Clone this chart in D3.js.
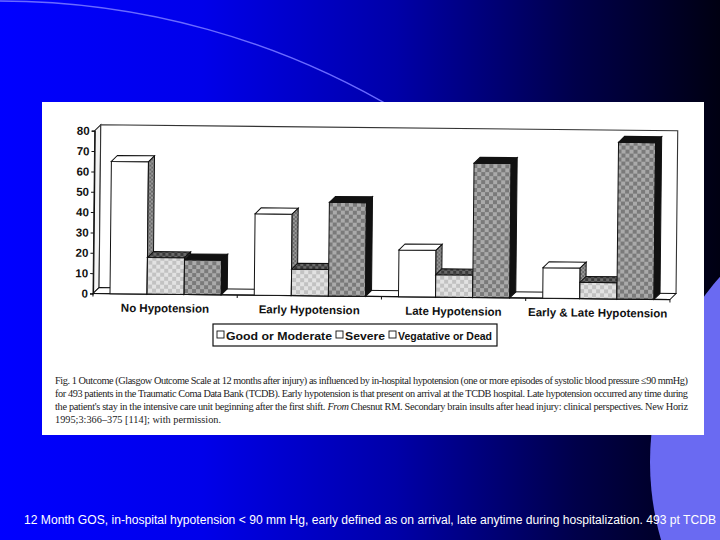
<!DOCTYPE html>
<html><head><meta charset="utf-8">
<script src="https://cdn.jsdelivr.net/npm/d3@7"></script>
<style>html,body{margin:0;padding:0;background:#000;overflow:hidden}svg{display:block}</style>
</head><body>
<svg id="c" width="720" height="540"></svg>
<script>
// ---------------- data ----------------
const categories = ["No Hypotension", "Early Hypotension", "Late Hypotension", "Early & Late Hypotension"];
const series = ["Good or Moderate", "Severe", "Vegatative or Dead"];
const goodModerate = [65, 40, 23, 15];
const severe = [18, 13, 11, 8];
const vegetativeDead = [17, 46, 66, 77];
const yTicks = [0, 10, 20, 30, 40, 50, 60, 70, 80];
const captionLines = [
  "Fig. 1  Outcome (Glasgow Outcome Scale at 12 months after injury) as influenced by in-hospital hypotension (one or more episodes of systolic blood pressure ≤90 mmHg)",
  "for 493 patients in the Traumatic Coma Data Bank (TCDB). Early hypotension is that present on arrival at the TCDB hospital. Late hypotension occurred any time during",
  "the patient's stay in the intensive care unit beginning after the first shift. From Chesnut RM. Secondary brain insults after head injury: clinical perspectives. New Horiz",
  "1995;3:366–375 [114]; with permission."
];
const footnote = "12  Month GOS, in-hospital hypotension < 90 mm Hg, early defined as on arrival, late anytime during hospitalization.  493 pt TCDB";

const values = [goodModerate, severe, vegetativeDead];

// ---------------- setup ----------------
const svg = d3.select("#c");
const defs = svg.append("defs");

const bg = defs.append("linearGradient").attr("id", "bg").attr("x1", 0).attr("x2", 1).attr("y1", 0).attr("y2", 0);
[[0, "#0000ff"], [0.28, "#0000ea"], [0.55, "#0000a8"], [0.8, "#00004a"], [1, "#000012"]].forEach(s =>
  bg.append("stop").attr("offset", s[0]).attr("stop-color", s[1]));

function checker(id, base, sq, size) {
  const p = defs.append("pattern").attr("id", id).attr("patternUnits", "userSpaceOnUse")
    .attr("width", size * 2).attr("height", size * 2);
  p.append("rect").attr("width", size * 2).attr("height", size * 2).attr("fill", base);
  p.append("rect").attr("width", size).attr("height", size).attr("fill", sq);
  p.append("rect").attr("x", size).attr("y", size).attr("width", size).attr("height", size).attr("fill", sq);
}
checker("sevFront", "#e2e2e2", "#c2c2c2", 4);
checker("vegFront", "#aaaaaa", "#7a7a7a", 4);
checker("sevTop", "#6a6a6a", "#3a3a3a", 3);
checker("whiteSide", "#9a9a9a", "#6a6a6a", 2);

const fills = {
  front: ["#ffffff", "url(#sevFront)", "url(#vegFront)"],
  top: ["#ffffff", "url(#sevTop)", "#111111"],
  side: ["url(#whiteSide)", "url(#sevTop)", "#111111"]
};

// background
svg.append("rect").attr("width", 720).attr("height", 540).attr("fill", "url(#bg)");
// lavender shape bottom-right
svg.append("circle").attr("cx", 930).attr("cy", 462).attr("r", 280).attr("fill", "#6a6af2");
// thin arc top-left
svg.append("path").attr("d", "M0,1 A778,778 0 0,1 400,112").attr("fill", "none")
  .attr("stroke", "#6a6aff").attr("stroke-width", 1.3);

// white panel
svg.append("rect").attr("x", 42).attr("y", 102).attr("width", 662).attr("height", 333).attr("fill", "#ffffff");

// ---------------- chart ----------------
const x0 = 93, x1 = 670, yBase = 293.5, yTop = 130.7, D = 6;
const chart = svg.append("g").attr("transform", `rotate(0.6, ${x0}, ${yBase})`);

const xCat = d3.scaleBand().domain(categories).range([x0, x1]).paddingInner(0).paddingOuter(0);
const xSer = d3.scaleBand().domain(series).range([17, xCat.bandwidth() - 16]);
const y = d3.scaleLinear().domain([0, 80]).range([yBase, yTop]);

// left wall + back wall
chart.append("path")
  .attr("d", `M${x0},${y(0)} L${x0},${y(80)} L${x0 + D},${y(80) - D} L${x0 + D},${y(0) - D} Z`)
  .attr("fill", "#f4f4f4").attr("stroke", "#222").attr("stroke-width", 1);
chart.append("path")
  .attr("d", `M${x0 + D},${y(0) - D} L${x0 + D},${y(80) - D} L${x1 + D},${y(80) - D} L${x1 + D},${y(0) - D}`)
  .attr("fill", "#ffffff").attr("stroke", "#333").attr("stroke-width", 1.1);
// floor
chart.append("path")
  .attr("d", `M${x0},${y(0)} L${x0 + D},${y(0) - D} L${x1 + D},${y(0) - D} L${x1},${y(0)} Z`)
  .attr("fill", "#ffffff").attr("stroke", "#111").attr("stroke-width", 1);

// y axis
const yAxis = chart.append("g").attr("transform", `translate(${x0},0)`)
  .call(d3.axisLeft(y).tickValues(yTicks).tickSize(3).tickPadding(2));
yAxis.select(".domain").attr("stroke", "#111").attr("stroke-width", 1.2);
yAxis.selectAll(".tick line").attr("stroke", "#111");
yAxis.selectAll("text").attr("font-family", "Liberation Sans, Arial, sans-serif")
  .attr("font-weight", "bold").attr("font-size", 11.5).attr("fill", "#111");

// x axis baseline + ticks
const xTickPos = [x0].concat(categories.map(c => xCat(c) + xCat.bandwidth()));
chart.append("line").attr("x1", x0).attr("x2", x1).attr("y1", y(0)).attr("y2", y(0))
  .attr("stroke", "#111").attr("stroke-width", 1.2);
chart.selectAll(".xt").data(xTickPos).enter().append("line")
  .attr("x1", d => d).attr("x2", d => d).attr("y1", y(0)).attr("y2", y(0) + 3)
  .attr("stroke", "#111");

// bars
categories.forEach((cat, ci) => {
  const g = chart.append("g");
  series.forEach((s, si) => {
    const v = values[si][ci];
    const bx = xCat(cat) + xSer(s), w = xSer.bandwidth();
    const yt = y(v), yb = y(0);
    g.append("rect").attr("x", bx).attr("y", yt).attr("width", w).attr("height", yb - yt)
      .attr("fill", fills.front[si]).attr("stroke", "#111").attr("stroke-width", 1);
    g.append("path")
      .attr("d", `M${bx},${yt} L${bx + D},${yt - D} L${bx + w + D},${yt - D} L${bx + w},${yt} Z`)
      .attr("fill", fills.top[si]).attr("stroke", "#111").attr("stroke-width", 1);
    g.append("path")
      .attr("d", `M${bx + w},${yt} L${bx + w + D},${yt - D} L${bx + w + D},${yb - D} L${bx + w},${yb} Z`)
      .attr("fill", fills.side[si]).attr("stroke", "#111").attr("stroke-width", 1);
  });
});

// category labels
chart.selectAll(".cl").data(categories).enter().append("text")
  .attr("x", d => xCat(d) + xCat.bandwidth() / 2).attr("y", y(0) + 18)
  .attr("text-anchor", "middle").attr("font-family", "Liberation Sans, Arial, sans-serif")
  .attr("font-weight", "bold").attr("font-size", 11.5).attr("fill", "#111").text(d => d);

// legend
const lg = svg.append("g");
lg.append("rect").attr("x", 213).attr("y", 324).attr("width", 284).attr("height", 22)
  .attr("fill", "#fff").attr("stroke", "#111").attr("stroke-width", 1.2);
const legendSlots = [[217, 226, 106], [336, 345, 40], [389, 398, 94]];
series.forEach((s, si) => {
  const [sx, tx, tw] = legendSlots[si];
  lg.append("rect").attr("x", sx).attr("y", 331).attr("width", 7).attr("height", 7)
    .attr("fill", "#fff").attr("stroke", "#111").attr("stroke-width", 0.9);
  lg.append("text").attr("x", tx).attr("y", 339.5)
    .attr("textLength", tw).attr("lengthAdjust", "spacingAndGlyphs")
    .attr("font-family", "Liberation Sans, Arial, sans-serif").attr("font-weight", "bold")
    .attr("font-size", 11.5).attr("fill", "#111").text(s);
});

// figure caption
const cap = svg.append("g");
captionLines.forEach((line, i) => {
  const t = cap.append("text").attr("x", 55).attr("y", 384 + i * 13)
    .attr("font-family", "Liberation Serif, Times New Roman, serif").attr("font-size", 10.3)
    .attr("fill", "#222");
  if (i < 3) t.attr("textLength", 633).attr("lengthAdjust", "spacing");
  if (i === 2) {
    const k = line.indexOf("From");
    t.append("tspan").text(line.slice(0, k));
    t.append("tspan").attr("font-style", "italic").text("From");
    t.append("tspan").text(line.slice(k + 4));
  } else t.text(line);
});

// footnote
svg.append("text").attr("x", 24).attr("y", 524).attr("textLength", 692).attr("lengthAdjust", "spacingAndGlyphs")
  .attr("font-family", "Liberation Sans, Arial, sans-serif").attr("font-size", 12)
  .attr("fill", "#ffffff").text(footnote);
</script>
</body></html>
